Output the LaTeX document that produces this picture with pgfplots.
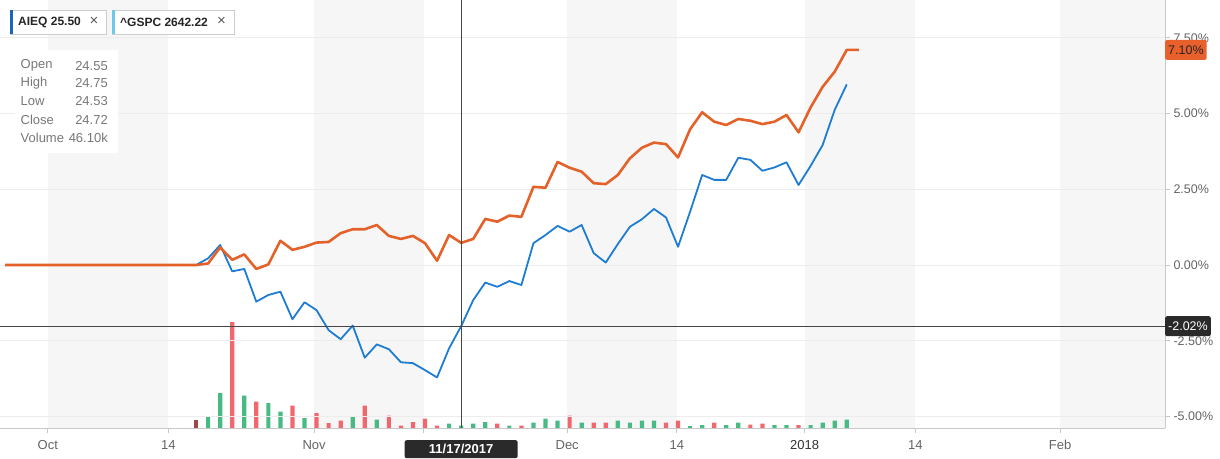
\documentclass[border=0pt]{standalone}
\usepackage{pgfplots}
\pgfplotsset{compat=1.18}
\usepackage{fontspec}
\setmainfont{Liberation Sans}
\definecolor{aieq}{RGB}{30,125,210}
\definecolor{aieqbar}{RGB}{25,100,190}
\definecolor{gspc}{RGB}{228,98,42}
\definecolor{band}{RGB}{246,246,246}
\definecolor{gridc}{RGB}{236,236,236}
\definecolor{axc}{RGB}{200,200,200}
\definecolor{volg}{RGB}{72,186,132}
\definecolor{volr}{RGB}{240,104,110}
\definecolor{vold}{RGB}{160,72,72}
\definecolor{labc}{RGB}{100,100,100}
\definecolor{tipc}{RGB}{120,120,120}
\definecolor{darkbox}{RGB}{42,42,42}
\definecolor{crossc}{RGB}{70,70,70}
\definecolor{chipl}{RGB}{110,200,235}
\definecolor{orangebox}{RGB}{232,96,44}
\newcommand{\lab}{\fontsize{12.5}{14}\selectfont}

\begin{document}
\begin{tikzpicture}[x=1pt,y=1pt]
\path[use as bounding box] (0,0) rectangle (1220,458);
% ---------- volume axis (background bands + bars) ----------
\begin{axis}[at={(0pt,30pt)}, anchor=south west,
  width=1165pt, height=428pt, scale only axis,
  xmin=-4.27, xmax=92.41, ymin=0, ymax=8560,
  axis lines=none, ticks=none]
\fill[band] ({axis cs:-0.3,0} |- {rel axis cs:0,0}) rectangle ({axis cs:9.7,0} |- {rel axis cs:0,1});
\fill[band] ({axis cs:21.8,0} |- {rel axis cs:0,0}) rectangle ({axis cs:30.9,0} |- {rel axis cs:0,1});
\fill[band] ({axis cs:42.8,0} |- {rel axis cs:0,0}) rectangle ({axis cs:51.9,0} |- {rel axis cs:0,1});
\fill[band] ({axis cs:62.5,0} |- {rel axis cs:0,0}) rectangle ({axis cs:71.7,0} |- {rel axis cs:0,1});
\fill[band] ({axis cs:83.7,0} |- {rel axis cs:0,0}) rectangle ({axis cs:92.41,0} |- {rel axis cs:0,1});
\addplot[ybar, bar width=4.2pt, bar shift=0pt, fill=vold, draw=none] coordinates {(12,166)};
\addplot[ybar, bar width=4.2pt, bar shift=0pt, fill=volg, draw=none] coordinates {
(13,234) (14,700) (16,646) (18,500) (19,326) (21,200) (25,226) (27,166)
(33,86) (34,46.1) (35,86) (36,120) (38,46) (40,106) (41,186) (42,146)
(44,106) (47,146) (48,106) (49,146) (50,146) (53,40) (54,60) (56,60)
(57,106) (60,60) (61,60) (63,60) (64,106) (65,146) (66,166)};
\addplot[ybar, bar width=4.2pt, bar shift=0pt, fill=volr, draw=none] coordinates {
(15,2120) (17,526) (20,446) (22,300) (23,100) (24,146) (26,446) (28,246)
(29,46) (30,120) (31,186) (32,46) (37,86) (39,46) (43,246) (45,106)
(46,106) (51,106) (52,146) (55,106) (58,66) (59,86) (62,60)};
\end{axis}
% ---------- main axis ----------
\begin{axis}[at={(0pt,30pt)}, anchor=south west,
  width=1165pt, height=428pt, scale only axis,
  xmin=-4.27, xmax=92.41, ymin=-5.38, ymax=8.746,
  axis x line*=bottom, axis y line*=right,
  axis line style={axc, line width=0.8pt, -},
  ytick={-5,-2.5,0,2.5,5,7.5},
  yticklabels={-5.00\%,-2.50\%,0.00\%,2.50\%,5.00\%,7.50\%},
  ymajorgrids, grid style={gridc, line width=0.8pt},
  xtick={-0.3,9.7,21.8,30.9,42.8,51.9,62.5,71.7,83.7},
  xticklabels={Oct,14,Nov,,Dec,14,{\color{black!80}2018},14,Feb},
  tick align=outside, major tick length=5pt,
  tick style={axc, line width=0.8pt},
  yticklabel style={font=\lab, text=labc},
  xticklabel style={font=\fontsize{13}{15}\selectfont, text=labc, yshift=-4pt},
  clip=false]
\addplot[aieq, line width=1.8pt, line join=round] coordinates {
(-3.85,0) (-3,0) (-2,0) (-1,0) (0,0) (1,0) (2,0) (3,0) (4,0) (5,0) (6,0) (7,0) (8,0) (9,0) (10,0) (11,0) (12,0)
(13,0.22) (14,0.66) (15,-0.21) (16,-0.13) (17,-1.21) (18,-0.99) (19,-0.88) (20,-1.79)
(21,-1.23) (22,-1.49) (23,-2.15) (24,-2.45) (25,-2.00) (26,-3.06) (27,-2.62) (28,-2.78)
(29,-3.21) (30,-3.24) (31,-3.47) (32,-3.71) (33,-2.75) (34,-2.02) (35,-1.16) (36,-0.58)
(37,-0.72) (38,-0.53) (39,-0.66) (40,0.72) (41,0.99) (42,1.29) (43,1.10) (44,1.32)
(45,0.39) (46,0.08) (47,0.69) (48,1.26) (49,1.51) (50,1.85) (51,1.57) (52,0.60)
(53,1.76) (54,2.97) (55,2.81) (56,2.81) (57,3.54) (58,3.47) (59,3.11) (60,3.22)
(61,3.39) (62,2.64) (63,3.27) (64,3.96) (65,5.12) (66,5.96)};
\addplot[gspc, line width=2.6pt, line join=round] coordinates {
(-3.85,0) (-3,0) (-2,0) (-1,0) (0,0) (1,0) (2,0) (3,0) (4,0) (5,0) (6,0) (7,0) (8,0) (9,0) (10,0) (11,0) (12,0)
(13,0.05) (14,0.58) (15,0.17) (16,0.35) (17,-0.13) (18,0.02) (19,0.80) (20,0.50)
(21,0.60) (22,0.74) (23,0.76) (24,1.05) (25,1.18) (26,1.18) (27,1.32) (28,0.96)
(29,0.86) (30,0.96) (31,0.72) (32,0.14) (33,0.99) (34,0.73) (35,0.86) (36,1.52)
(37,1.43) (38,1.63) (39,1.59) (40,2.58) (41,2.55) (42,3.40) (43,3.21) (44,3.08)
(45,2.70) (46,2.67) (47,2.97) (48,3.52) (49,3.87) (50,4.04) (51,3.99) (52,3.55)
(53,4.48) (54,5.04) (55,4.73) (56,4.62) (57,4.82) (58,4.76) (59,4.65) (60,4.73)
(61,4.95) (62,4.38) (63,5.20) (64,5.88) (65,6.38) (66,7.10) (67,7.10)};
% crosshair
\draw[crossc, line width=0.8pt] ({axis cs:34,0} |- {rel axis cs:0,0}) -- ({axis cs:34,0} |- {rel axis cs:0,1});
\draw[crossc, line width=0.8pt] ({rel axis cs:0,0} |- {axis cs:0,-2.02}) -- ({rel axis cs:1,0} |- {axis cs:0,-2.02});
% value boxes
\node[fill=darkbox, text=white, rounded corners=2pt, anchor=west, inner xsep=3pt, minimum height=20pt, font=\lab]
  at ({rel axis cs:1,0} |- {axis cs:0,-2.02}) {-2.02\%};
\node[fill=orangebox, text=black!85, rounded corners=2pt, anchor=west, inner xsep=3pt, minimum height=20pt, font=\lab]
  at ({rel axis cs:1,0} |- {axis cs:0,7.10}) {7.10\%};
\node[fill=darkbox, text=white, rounded corners=2pt, anchor=north, yshift=-12pt, minimum width=113pt, minimum height=18pt, inner ysep=1pt, font=\bfseries\fontsize{13}{14}\selectfont]
  at ({axis cs:34,0} |- {rel axis cs:0,0}) {11/17/2017};
\end{axis}
% ---------- legend chips ----------
\draw[fill=white, draw=black!20, line width=0.8pt] (10,424) rectangle (106,448);
\fill[aieqbar] (10,424) rectangle (13,448);
\node[anchor=west, inner sep=0pt, font=\bfseries\fontsize{12}{14}\selectfont, text=black!85] at (18,436) {AIEQ 25.50};
\node[anchor=center, inner sep=0pt, font=\fontsize{15}{15}\selectfont, text=black!65] at (94,436.5) {×};
\draw[fill=white, draw=black!20, line width=0.8pt] (112,424) rectangle (234,448);
\fill[chipl] (112,424) rectangle (115,448);
\node[anchor=west, inner sep=0pt, font=\bfseries\fontsize{12}{14}\selectfont, text=black!85] at (120,436) {\textasciicircum GSPC 2642.22};
\node[anchor=center, inner sep=0pt, font=\fontsize{15}{15}\selectfont, text=black!65] at (221.5,436.5) {×};
% ---------- tooltip ----------
\fill[white] (15,305) rectangle (118,408);
\foreach \k/\v/\yy in {Open/24.55/392.3, High/24.75/374.5, Low/24.53/356.5, Close/24.72/338.5, Volume/46.10k/320.5}{
  \node[anchor=west, inner sep=0pt, font=\fontsize{13}{14}\selectfont, text=tipc] at (20.5,\yy) {\k};
  \node[anchor=east, inner sep=0pt, font=\fontsize{13}{14}\selectfont, text=tipc] at (108,\yy) {\v};
}
\end{tikzpicture}
\end{document}
